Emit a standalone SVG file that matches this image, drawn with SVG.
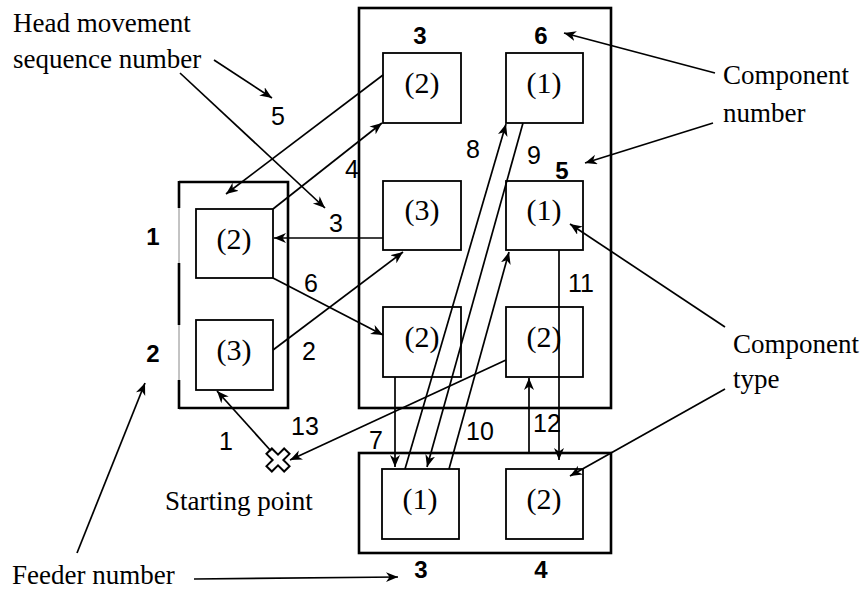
<svg xmlns="http://www.w3.org/2000/svg" width="865" height="594" viewBox="0 0 865 594">
<style>
.bg{fill:#fff}
.outer{fill:none;stroke:#000;stroke-width:2.6}
.box{fill:#fff;stroke:#000;stroke-width:1.8}
.ser{font-family:"Liberation Serif","Times New Roman",serif;fill:#000}
.lbl{font-size:30px;text-anchor:middle}
.ann{font-size:27px}
.num{font-family:"Liberation Sans",Arial,sans-serif;font-size:25px;text-anchor:middle;fill:#000}
.bold{font-family:"Liberation Sans",Arial,sans-serif;font-size:24px;font-weight:bold;text-anchor:middle;fill:#000}
.ln{fill:none;stroke:#000;stroke-width:1.7;marker-end:url(#ah)}
</style>
<defs>
<marker id="ah" markerUnits="userSpaceOnUse" markerWidth="14" markerHeight="12" refX="12" refY="5" orient="auto">
<path d="M0,0 L12,5 L0,10 L3.5,5 Z" fill="#000"/>
</marker>
</defs>
<rect class="bg" x="0" y="0" width="865" height="594"/>

<g id="feeder-left">
<path class="outer" d="M179,182 H288 V408 H179"/>
<line x1="179" y1="182" x2="179" y2="408" stroke="#888" stroke-width="1"/>
<path d="M179,181 V208 M179,263 V325 M179,380 V409" stroke="#000" stroke-width="2.6" fill="none"/>
<text class="bold" x="153" y="245">1</text>
<text class="bold" x="153" y="362">2</text>
</g>
<g id="main-area">
<rect class="outer" x="359" y="8" width="252" height="400"/>
<text class="bold" x="420" y="44">3</text>
<text class="bold" x="541" y="44">6</text>
<text class="bold" x="562" y="179">5</text>
</g>
<g id="feeder-bottom">
<rect class="outer" x="359" y="453" width="252" height="100"/>
<text class="bold" x="421" y="578">3</text>
<text class="bold" x="541" y="578">4</text>
</g>

<g id="node-L2"><rect class="box" x="196" y="209" width="77" height="69"/><text class="ser lbl" x="234" y="249">(2)</text></g>
<g id="node-L3"><rect class="box" x="196" y="320" width="77" height="70"/><text class="ser lbl" x="234" y="360">(3)</text></g>
<g id="node-T2"><rect class="box" x="383" y="53" width="78" height="70"/><text class="ser lbl" x="422" y="93">(2)</text></g>
<g id="node-T1"><rect class="box" x="506" y="53" width="77" height="70"/><text class="ser lbl" x="544" y="93">(1)</text></g>
<g id="node-M3"><rect class="box" x="383" y="181" width="78" height="69"/><text class="ser lbl" x="422" y="220">(3)</text></g>
<g id="node-M1"><rect class="box" x="506" y="181" width="77" height="69"/><text class="ser lbl" x="544" y="220">(1)</text></g>
<g id="node-B2a"><rect class="box" x="383" y="307" width="78" height="70"/><text class="ser lbl" x="422" y="347">(2)</text></g>
<g id="node-B2b"><rect class="box" x="506" y="307" width="77" height="70"/><text class="ser lbl" x="544" y="347">(2)</text></g>
<g id="node-F1"><rect class="box" x="382" y="469" width="77" height="70"/><text class="ser lbl" x="420" y="509">(1)</text></g>
<g id="node-F2"><rect class="box" x="506" y="469" width="77" height="70"/><text class="ser lbl" x="544" y="509">(2)</text></g>

<g id="start">
<polygon transform="translate(278,460) rotate(45)" points="-3.8,-12.5 3.8,-12.5 3.8,-3.8 12.5,-3.8 12.5,3.8 3.8,3.8 3.8,12.5 -3.8,12.5 -3.8,3.8 -12.5,3.8 -12.5,-3.8 -3.8,-3.8" fill="#fff" stroke="#000" stroke-width="2"/>
</g>

<g id="connectors">
<line class="ln" x1="271" y1="451" x2="217" y2="391"/>
<line class="ln" x1="273" y1="350" x2="403" y2="252"/>
<line class="ln" x1="383" y1="238" x2="274" y2="238"/>
<line class="ln" x1="273" y1="209" x2="382" y2="123"/>
<line class="ln" x1="383" y1="75" x2="226" y2="194"/>
<line class="ln" x1="273" y1="278" x2="383" y2="335"/>
<line class="ln" x1="395" y1="377" x2="395" y2="467"/>
<line class="ln" x1="405" y1="469" x2="506" y2="124"/>
<line class="ln" x1="523" y1="123" x2="427" y2="467"/>
<line class="ln" x1="449" y1="469" x2="509" y2="252"/>
<line class="ln" x1="559" y1="250" x2="559" y2="460"/>
<line class="ln" x1="529" y1="453" x2="529" y2="378"/>
<line class="ln" x1="506" y1="360" x2="290" y2="460"/>
</g>

<g id="seq-labels">
<text class="num" x="278" y="125">5</text>
<text class="num" x="352" y="178">4</text>
<text class="num" x="336" y="232">3</text>
<text class="num" x="311" y="292">6</text>
<text class="num" x="309" y="360">2</text>
<text class="num" x="226" y="450">1</text>
<text class="num" x="305" y="435">13</text>
<text class="num" x="376" y="449">7</text>
<text class="num" x="473" y="158">8</text>
<text class="num" x="534" y="164">9</text>
<text class="num" x="480" y="440">10</text>
<text class="num" x="581" y="292">11</text>
<text class="num" x="547" y="432">12</text>
</g>

<g id="annotations">
<text class="ser ann" x="13" y="32">Head movement</text>
<text class="ser ann" x="13" y="68">sequence number</text>
<text class="ser ann" x="723" y="84">Component</text>
<text class="ser ann" x="723" y="122">number</text>
<text class="ser ann" x="733" y="353">Component</text>
<text class="ser ann" x="733" y="388">type</text>
<text class="ser ann" x="165" y="510">Starting point</text>
<text class="ser ann" x="12" y="584">Feeder number</text>
<line class="ln" x1="214" y1="60" x2="272" y2="98"/>
<line class="ln" x1="180" y1="73" x2="325" y2="208"/>
<line class="ln" x1="715" y1="73" x2="564" y2="33"/>
<line class="ln" x1="713" y1="123" x2="585" y2="163"/>
<line class="ln" x1="725" y1="327" x2="570" y2="224"/>
<line class="ln" x1="725" y1="389" x2="570" y2="476"/>
<line class="ln" x1="194" y1="579" x2="398" y2="577"/>
<line class="ln" x1="77" y1="553" x2="145" y2="383"/>
</g>
</svg>
